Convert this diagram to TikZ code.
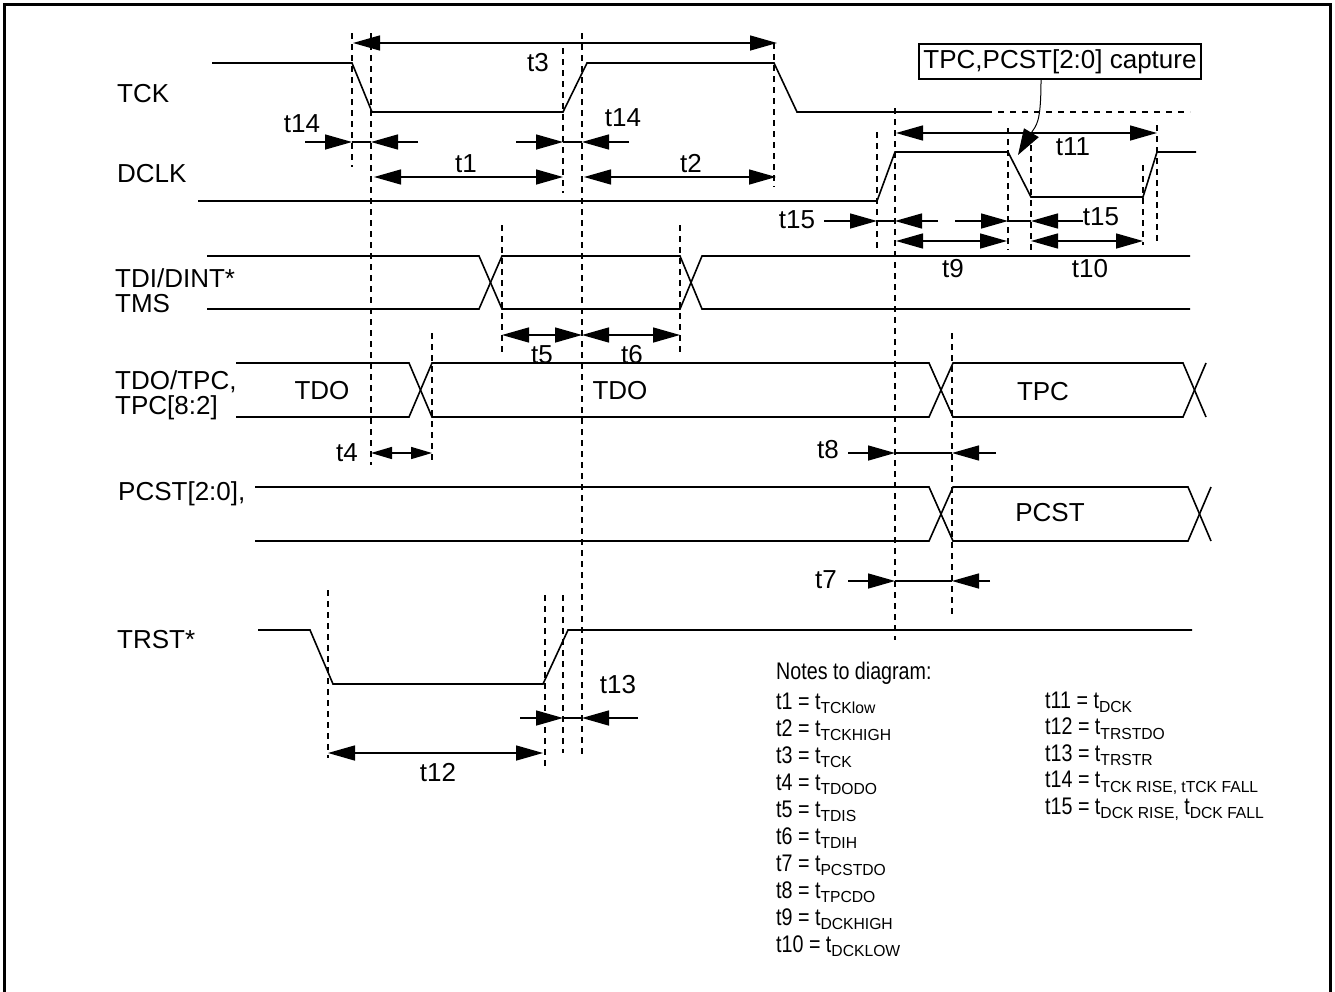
\documentclass[tikz,border=0pt]{standalone}
\usepackage{fontspec}
\setmainfont{Liberation Sans}
\newfontfamily\notefont[FakeStretch=0.82]{Liberation Sans}
\newfontfamily\subfont[FakeStretch=0.98]{Liberation Sans}
\usetikzlibrary{arrows.meta}
\usetikzlibrary{calc}
\newcommand{\tsub}[1]{\raisebox{-4.5pt}{\subfont\fontsize{16}{16}\selectfont #1}}

\begin{document}
\begin{tikzpicture}[x=1pt,y=-1pt,
  sig/.style={line width=1.6pt},
  guide/.style={line width=1.8pt,dash pattern=on 6pt off 5pt},
  dim/.style={line width=1.5pt},
  lbl/.style={inner sep=0pt,font=\fontsize{26}{25}\selectfont},
  signame/.style={lbl,anchor=west,align=left},
  note/.style={anchor=base west,inner sep=0pt,font=\notefont\fontsize{24}{24}\selectfont},
  >={Triangle[length=27pt,width=15pt]}]
\useasboundingbox (0,0) rectangle (1335,991);
% frame
\draw[line width=3pt] (4.5,1000) -- (4.5,4.5) -- (1330,4.5) -- (1330,1000);
% signal names
\node (nTCK) at (117,94) [signame] {TCK};
\node (nDCLK) at (117,174) [signame] {DCLK};
\node (nTDI) at (115,291) [signame] {TDI/DINT*\\TMS};
\node (nTDO) at (115,395) [signame] {TDO/TPC,\\TPC[8:2]};
\node (nPCST) at (118,494) [signame] {PCST[2:0],};
\node (nTRST) at (117,640) [signame] {TRST*};
% waveforms
\draw[sig] (212,63) -- (352,63) -- (372,112) -- (563,112) -- (587,63) -- (774,63) -- (797,112) -- (986,112);
\draw[sig,dash pattern=on 6pt off 6pt] (986,112) -- (1190,112);
\draw[sig] (198,201) -- (877,201) -- (895,152) -- (1008,152) -- (1031,197) -- (1143,197) -- (1157,152) -- (1196,152);
\foreach \u/\d in {256/309, 309/256}
  \draw[sig] (207,\u) -- (479,\u) -- (502,\d) -- (680,\d) -- (702,\u) -- (1190,\u);
\foreach \u/\d in {363/417, 417/363}
  \draw[sig] (236,\u) -- (409,\u) -- (432,\d) -- (929,\d) -- (953,\u) -- (1183,\u) -- (1206,\d);
\foreach \u/\d in {487/541, 541/487}
  \draw[sig] (255,\u) -- (929,\u) -- (953,\d) -- (1188,\d) -- (1211,\u);
\draw[sig] (258,630) -- (310,630) -- (333,684) -- (543,684) -- (568,630) -- (1192,630);
% bus values
\node (vTDOa) at (322,391) [lbl] {TDO};
\node (vTDOb) at (620,391) [lbl] {TDO};
\node (vTPC) at (1043,392) [lbl] {TPC};
\node (vPCST) at (1050,513) [lbl] {PCST};
% guide lines
\foreach \x/\a/\b in {352/33/167, 371/33/465, 563/48/193, 582/33/758, 774/43/187,
  877/132/252, 895/108/640, 1008/128/250, 1031/145/252, 1143/165/245, 1157/125/242,
  432/333/463, 502/225/355, 680/225/355, 952/333/617, 328/590/758, 545/595/768, 563/595/753}
  \draw[guide] (\x,\a) -- (\x,\b);
% end points of the timing arrows
\foreach \n/\x/\y in {t3-L/353/43, t3-R/777/43, t1-L/374/177, t1-R/563/177,
  t2-L/584/177, t2-R/776/177, t11-L/896/133, t11-R/1157/133,
  t9-L/896/241, t9-R/1007/241, t10-L/1031/241, t10-R/1143/241,
  t5-L/502/335, t5-R/582/335, t6-L/582/335, t6-R/680/335,
  t4-L/371/453, t4-R/432/453, t12-L/328/753, t12-R/543/753,
  t14a-L/305/142, t14a-A/352/142, t14a-B/371/142, t14a-R/418/142,
  t14b-L/516/142, t14b-A/563/142, t14b-B/582/142, t14b-R/629/142,
  t15a-L/824/221, t15a-A/877/221, t15a-B/895/221, t15a-R/938/221,
  t15b-L/955/221, t15b-A/1008/221, t15b-B/1031/221, t15b-R/1083/221,
  t8-L/848/453, t8-A/895/453, t8-B/952/453, t8-R/996/453,
  t7-L/848/581, t7-A/895/581, t7-B/952/581, t7-R/990/581,
  t13-L/520/718, t13-A/563/718, t13-B/582/718, t13-R/638/718}
  \coordinate (\n) at (\x,\y);
\foreach \n in {t3, t1, t2, t11, t9, t10, t5, t6, t12}
  \draw[dim,<->] (\n-L) -- (\n-R);
\draw[dim,{Triangle[length=21pt,width=12pt]}-{Triangle[length=21pt,width=12pt]}] (t4-L) -- (t4-R);
\foreach \n in {t14a, t14b, t15a, t15b, t8, t7, t13} {
  \draw[dim,->] (\n-L) -- (\n-A);
  \draw[dim] (\n-A) -- (\n-B);
  \draw[dim,->] (\n-R) -- (\n-B);
}
% timing labels
\foreach \n/\t/\x/\y in {l3/t3/538/63, l14a/t14/302/124, l14b/t14/623/118,
  l1/t1/466/164, l2/t2/691/164, l11/t11/1073/147, l15a/t15/797/220, l15b/t15/1101/217,
  l9/t9/953/269, l10/t10/1090/269, l5/t5/542/355, l6/t6/632/355, l4/t4/347/453,
  l8/t8/828/450, l7/t7/826/580, l12/t12/438/773, l13/t13/618/685}
  \node (\n) at (\x,\y) [lbl] {\t};
% capture callout
\node (cap) at (1060,61.5) [lbl,draw,line width=1.5pt,minimum width=282pt,minimum height=35pt] {TPC,PCST[2:0] capture};
\coordinate (capto) at (1018,155);
\draw[line width=1pt,-{Triangle[length=26pt,width=17pt]}] ($(cap.south)+(-19,0)$) .. controls ($(cap.south)+(-19,45)$) and (1036,125) .. (capto);
% notes
\node (notes) at (776,679) [note] {Notes to diagram:};
\foreach \i/\s in {1/TCKlow, 2/TCKHIGH, 3/TCK, 4/TDODO, 5/TDIS, 6/TDIH, 7/PCSTDO, 8/TPCDO, 9/DCKHIGH, 10/DCKLOW}
  \node (n\i) at (776,{709+(\i-1)*27}) [note] {t\i{} = t\tsub{\s}};
\foreach \i/\s in {11/DCK, 12/TRSTDO, 13/TRSTR, 14/{TCK RISE, tTCK FALL}}
  \node (n\i) at (1045,{708+(\i-11)*26.5}) [note] {t\i{} = t\tsub{\s}};
\node (n15) at (1045,814) [note] {t15 = t\tsub{DCK RISE,} t\tsub{DCK FALL}};
\end{tikzpicture}
\end{document}
